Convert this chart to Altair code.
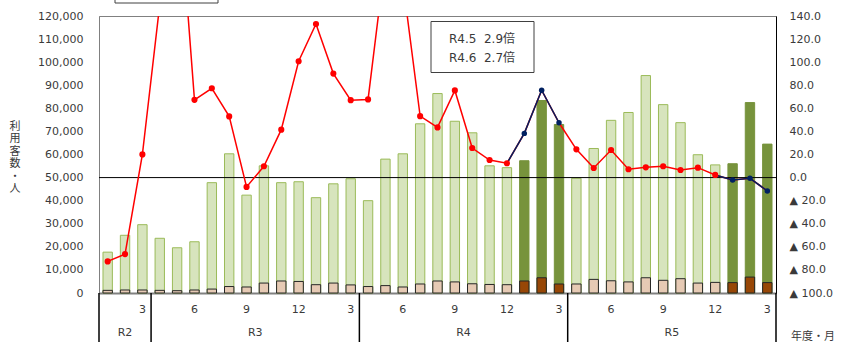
import altair as alt
import pandas as pd

# Fiscal year / month for each bar (R2 Jan .. R5 Mar)
fiscal_years = ["R2"] * 3 + ["R3"] * 12 + ["R4"] * 12 + ["R5"] * 12
months = [1, 2, 3] + [4, 5, 6, 7, 8, 9, 10, 11, 12, 1, 2, 3] * 3

# Total passengers per month (persons)
users = [17700, 25000, 29600,
         23700, 19600, 22200, 47800, 60300, 42400, 55100, 47800, 48200, 41300, 47300, 49500,
         40000, 58000, 60300, 73300, 86400, 74400, 69400, 55100, 54300, 57300, 83400, 73000,
         49700, 62600, 74800, 78200, 94200, 81600, 73800, 59900, 55500, 56000, 82500, 64500]

# Sub-group of passengers per month (persons)
users_sub = [1150, 1300, 1300,
             1150, 1000, 1300, 1700, 2800, 2600, 4300, 5200, 5000, 3600, 4300, 3500,
             2800, 3200, 2600, 3900, 5200, 4800, 4000, 3700, 3600, 5200, 6600, 3900,
             3900, 5900, 5300, 4800, 6600, 5500, 6200, 4300, 4600, 4500, 6900, 4500]

# Year-on-year change (%)
yoy_pct = [-72.6, -66.3, 20.1,
           150.0, 265.0, 67.4, 77.4, 53.0, -8.1, 9.8, 41.5, 100.8, 133.1, 90.1, 67.1,
           67.7, 190.0, 170.0, 53.2, 43.5, 75.5, 25.6, 15.2, 12.4, 38.3, 75.7, 47.5,
           24.5, 8.3, 23.9, 7.2, 8.9, 9.8, 6.6, 8.6, 2.3, -2.0, -0.6, -11.6]

highlight_years = ["R4", "R5"]
highlight_months = [1, 2, 3]

month_ticks = [3, 6, 9, 12]
note_lines = ["R4.5\u00a0\u00a02.9倍", "R4.6\u00a0\u00a02.7倍"]
left_title = ["利", "用", "客", "数", "・", "人"]
corner_label = "年度・月"

keys = [f"{fy}-{m}" for fy, m in zip(fiscal_years, months)]
phase = ["hl" if (fy in highlight_years and m in highlight_months) else "base"
         for fy, m in zip(fiscal_years, months)]

df = pd.DataFrame({
    "key": keys, "fy": fiscal_years, "month": months,
    "users": users, "sub": users_sub, "pct": yoy_pct, "phase": phase,
    "mlabel": [str(m) if m in month_ticks else "" for m in months],
})

# segments of the line drawn in navy (leading into and through highlighted months)
navy_rows = []
for i in range(len(keys)):
    nxt = i + 1 < len(keys) and phase[i + 1] == "hl"
    if phase[i] == "hl" or nxt:
        seg = fiscal_years[i] if phase[i] == "hl" else fiscal_years[i + 1]
        navy_rows.append({"key": keys[i], "pct": yoy_pct[i], "seg": seg})
navy_df = pd.DataFrame(navy_rows)

TXT = "#3a3a3a"
FONT = "DejaVu Sans, Noto Sans CJK JP"

x_scale = alt.Scale(domain=keys, paddingInner=0, paddingOuter=0)
x_axis = alt.Axis(labels=False, ticks=False, title=None, domainColor="#808080", domainWidth=2)
X = alt.X("key:O", scale=x_scale, sort=None, axis=x_axis)

left_axis = alt.Axis(values=list(range(0, 120001, 10000)), format=",.0f", ticks=False, grid=False,
                     labelPadding=16, labelFontSize=11, labelColor=TXT,
                     domainColor="#808080", domainWidth=1, title=None)
left_scale = alt.Scale(domain=[0, 120000], nice=False, zero=True)

right_axis = alt.Axis(orient="right", values=list(range(-100, 141, 20)), ticks=False, grid=False,
                      labelPadding=13, labelFontSize=11, labelColor=TXT,
                      labelExpr="datum.value < 0 ? '▲ ' + format(-datum.value, '.1f') : format(datum.value, '.1f')",
                      domainColor="#000000", domainWidth=1, title=None)
right_scale = alt.Scale(domain=[-100, 140], nice=False, zero=False)

base = alt.Chart(df)
is_hl = "datum.phase == 'hl'"

green = base.mark_bar(width=alt.RelativeBandSize(0.54), strokeWidth=1).encode(
    x=X,
    y=alt.Y("users:Q", scale=left_scale, axis=left_axis, stack=None),
    fill=alt.condition(is_hl, alt.value("#77933c"), alt.value("#d7e4bd")),
    stroke=alt.condition(is_hl, alt.value("#77933c"), alt.value("#9bbb59")),
)
tan = base.mark_bar(width=alt.RelativeBandSize(0.54), strokeWidth=1, stroke="#262626").encode(
    x=X,
    y=alt.Y("sub:Q", scale=left_scale, axis=left_axis, stack=None),
    fill=alt.condition(is_hl, alt.value("#974706"), alt.value("#e6cab4")),
)
bars = alt.layer(green, tan)

Y2 = alt.Y("pct:Q", scale=right_scale, axis=right_axis)
zero_rule = alt.Chart(pd.DataFrame({"pct": [0]})).mark_rule(color="#000000", strokeWidth=1).encode(y=Y2)
red_line = base.mark_line(color="#ff0000", strokeWidth=1.5, clip=True).encode(x=X, y=Y2)
navy_line = alt.Chart(navy_df).mark_line(color="#002060", strokeWidth=1.5, clip=True).encode(
    x=X, y=Y2, detail="seg:N")
dots = base.mark_circle(opacity=1, clip=True).encode(
    x=X, y=Y2,
    color=alt.condition(is_hl, alt.value("#002060"), alt.value("#ff0000")),
    size=alt.condition(is_hl, alt.value(30), alt.value(38)),
)
lines = alt.layer(zero_rule, red_line, navy_line, dots)

# vertical left-axis title, one character per row
title_df = pd.DataFrame({"t": left_title, "row": list(range(len(left_title)))})
left_title_text = alt.Chart(title_df).mark_text(
    fontSize=11, color=TXT, align="center", baseline="middle", font="Noto Sans CJK JP").encode(
    x=alt.value(-84),
    y=alt.Y("row:Q", scale=alt.Scale(domain=[0, len(left_title) - 1], range=[111, 173]), axis=None),
    text="t:N")

# two-level category labels under the plot
month_text = base.mark_text(fontSize=11, color=TXT, baseline="middle").encode(
    x=X, y=alt.value(294), text="mlabel:N")

year_df = pd.DataFrame({"fy": ["R2", "R3", "R4", "R5"],
                        "key": ["R2-2", "R3-9", "R4-9", "R5-9"],
                        "first": [True, False, False, False]})
year_first = alt.Chart(year_df).transform_filter("datum.first").mark_text(
    fontSize=11, color=TXT, baseline="middle").encode(
    x=alt.X("key:O", scale=x_scale, sort=None, axis=x_axis, bandPosition=0.5),
    y=alt.value(317), text="fy:N")
year_rest = alt.Chart(year_df).transform_filter("!datum.first").mark_text(
    fontSize=11, color=TXT, baseline="middle").encode(
    x=alt.X("key:O", scale=x_scale, sort=None, axis=x_axis, bandPosition=1),
    y=alt.value(317), text="fy:N")

sep_df = pd.DataFrame({"key": ["R2-1", "R3-4", "R4-4", "R5-4"]})
sep_start = alt.Chart(sep_df).mark_rule(color="#000000", strokeWidth=1.5).encode(
    x=alt.X("key:O", scale=x_scale, sort=None, axis=x_axis, bandPosition=0),
    y=alt.value(277), y2=alt.value(326))
sep_end = alt.Chart(pd.DataFrame({"key": [keys[-1]]})).mark_rule(color="#000000", strokeWidth=1.5).encode(
    x=alt.X("key:O", scale=x_scale, sort=None, axis=x_axis, bandPosition=1),
    y=alt.value(277), y2=alt.value(326))

corner = alt.Chart(pd.DataFrame({"t": [corner_label]})).mark_text(
    fontSize=11, color=TXT, align="left", baseline="middle", font="Noto Sans CJK JP").encode(
    x=alt.value(692), y=alt.value(321), text="t:N")

# annotation box with the off-scale ratios
note_box = alt.Chart(pd.DataFrame({"a": [0]})).mark_rect(
    fill="white", stroke="#404040", strokeWidth=1).encode(
    x=alt.value(332), x2=alt.value(435), y=alt.value(5.5), y2=alt.value(56.5))
note_df = pd.DataFrame({"t": note_lines, "row": list(range(len(note_lines)))})
note_text = alt.Chart(note_df).mark_text(
    fontSize=12, color=TXT, align="center", baseline="middle").encode(
    x=alt.value(383),
    y=alt.Y("row:Q", scale=alt.Scale(domain=[0, 1], range=[23, 41.7]), axis=None),
    text="t:N")

# legend frame above the plot
legend_box = alt.Chart(pd.DataFrame({"a": [0]})).mark_rect(
    fill="white", stroke="#404040", strokeWidth=1).encode(
    x=alt.value(16), x2=alt.value(119), y=alt.value(-40), y2=alt.value(-13))

chart = alt.layer(
    bars, lines, left_title_text, month_text, year_first, year_rest, sep_start, sep_end, corner,
    note_box, note_text, legend_box
).resolve_scale(y="independent").properties(
    width=677, height=277,
    padding={"left": 99, "top": 16, "right": 67, "bottom": 49},
    autosize=alt.AutoSizeParams(type="none"),
).configure(font=FONT).configure_view(stroke="#808080", strokeWidth=1)

chart.save("out.html", embed_options={"renderer": "svg", "actions": False})
